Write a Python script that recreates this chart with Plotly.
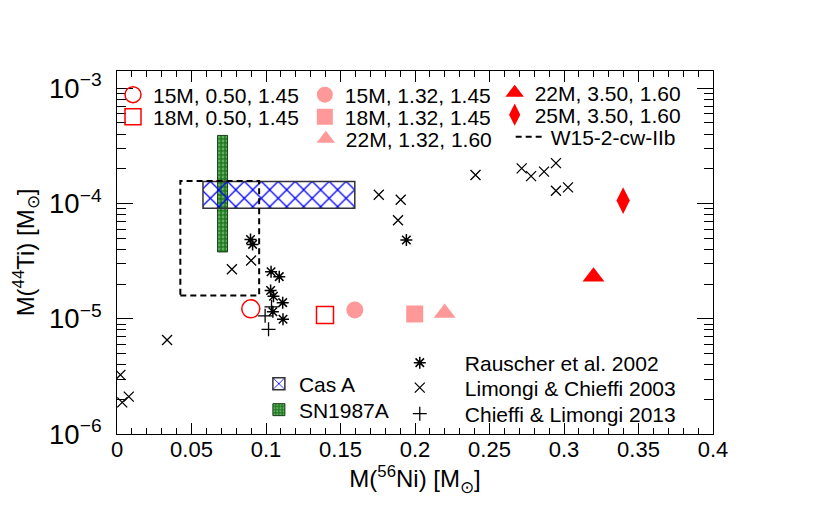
import plotly.graph_objects as go

# Rauscher et al. 2002
rau_ni = [0.0896, 0.0910, 0.1034, 0.1089, 0.1031, 0.1050, 0.1112, 0.1046, 0.1114, 0.1942]
rau_ti = [4.88e-5, 4.42e-5, 2.56e-5, 2.32e-5, 1.76e-5, 1.57e-5, 1.38e-5, 1.15e-5, 9.9e-6, 4.83e-5]

# Limongi & Chieffi 2003
lc_ni = [0.0023, 0.0035, 0.0079, 0.0336, 0.0771, 0.0900, 0.1757, 0.1904, 0.1886,
         0.2406, 0.2716, 0.2779, 0.2866, 0.2946, 0.2946, 0.3027]
lc_ti = [3.26e-6, 1.88e-6, 2.11e-6, 6.55e-6, 2.69e-5, 3.20e-5, 1.19e-4, 1.08e-4, 7.16e-5,
         1.77e-4, 2.02e-4, 1.73e-4, 1.89e-4, 2.24e-4, 1.29e-4, 1.38e-4]

# Chieffi & Limongi 2013
cl_ni = [0.0994, 0.1017, 0.1037]
cl_ti = [1.06e-5, 8.1e-6, 1.27e-5]

# models
model_names = ["15M, 0.50, 1.45", "18M, 0.50, 1.45",
               "15M, 1.32, 1.45", "18M, 1.32, 1.45", "22M, 1.32, 1.60",
               "22M, 3.50, 1.60", "25M, 3.50, 1.60"]
model_ni = [0.0898, 0.1396, 0.1596, 0.1998, 0.2199, 0.3198, 0.3397]
model_ti = [1.22e-5, 1.08e-5, 1.19e-5, 1.10e-5, 1.12e-5, 2.32e-5, 1.06e-4]

# observed ranges
casa_ni = [0.0577, 0.1596]
casa_ti = [9.1e-5, 1.55e-4]
sn87_ni = [0.0675, 0.0742]
sn87_ti = [3.8e-5, 3.9e-4]
w15_ni = [0.0425, 0.0954]
w15_ti = [1.59e-5, 1.57e-4]

FONT = "Liberation Sans, Arial, sans-serif"
OFF = 8  # page body margin
W, H = 822, 497
L, T = 117 - OFF, 71 - OFF
R, B = W - (713.5 - OFF), H - (434 - OFF)


def rect(xr, yr):
    return [xr[0], xr[1], xr[1], xr[0], xr[0]], [yr[0], yr[0], yr[1], yr[1], yr[0]]


def leg_at(px, py, iw=30):
    # one legend per entry, placed in page pixels
    px, py = px - OFF, py - OFF
    return dict(x=(px - L) / (W - L - R), y=(H - B - py) / (H - T - B),
                xanchor="left", yanchor="middle", bgcolor="rgba(0,0,0,0)",
                borderwidth=0, font=dict(family=FONT, size=21, color="black"),
                itemwidth=iw, itemclick=False)


fig = go.Figure()

# SN1987A band
fig.add_trace(go.Bar(x=[(sn87_ni[0] + sn87_ni[1]) / 2], width=[sn87_ni[1] - sn87_ni[0]],
                     base=[sn87_ti[0]], y=[sn87_ti[1] - sn87_ti[0]], name="SN1987A",
                     marker=dict(color="#1f7a1f", line=dict(color="#1a3d1a", width=1),
                                 pattern=dict(shape=".", bgcolor="#1f7a1f", fgcolor="#a8e0a8",
                                              size=4, solidity=0.4)),
                     legend="legend12"))
# Cas A box
fig.add_trace(go.Bar(x=[(casa_ni[0] + casa_ni[1]) / 2], width=[casa_ni[1] - casa_ni[0]],
                     base=[casa_ti[0]], y=[casa_ti[1] - casa_ti[0]], name="Cas A",
                     marker=dict(color="rgba(0,0,0,0)", line=dict(color="#333333", width=1.5),
                                 pattern=dict(shape="x", bgcolor="rgba(0,0,0,0)",
                                              fgcolor="#0000ff", fgopacity=1,
                                              size=12, solidity=0.2)),
                     legend="legend11"))

# W15-2-cw-IIb range
x, y = rect(w15_ni, w15_ti)
fig.add_trace(go.Scatter(x=x, y=y, mode="lines", name="W15-2-cw-IIb",
                         line=dict(color="black", width=2, dash="6px,4px"),
                         legend="legend8"))

fig.add_trace(go.Scatter(x=rau_ni, y=rau_ti, mode="markers", name="Rauscher et al. 2002",
                         marker=dict(symbol="asterisk-open", size=10, color="black",
                                     line=dict(color="black", width=1.5)),
                         legend="legend13"))
fig.add_trace(go.Scatter(x=lc_ni, y=lc_ti, mode="markers", name="Limongi & Chieffi 2003",
                         marker=dict(symbol="x-thin-open", size=10, color="black",
                                     line=dict(color="black", width=1.3)),
                         legend="legend14"))
fig.add_trace(go.Scatter(x=cl_ni, y=cl_ti, mode="markers", name="Chieffi & Limongi 2013",
                         marker=dict(symbol="cross-thin-open", size=10, color="black",
                                     line=dict(color="black", width=1.3)),
                         legend="legend15"))

model_style = [
    dict(symbol="circle-open", size=18, color="red", line=dict(color="red", width=1.5)),
    dict(symbol="square-open", size=17, color="red", line=dict(color="red", width=1.5)),
    dict(symbol="circle", size=17, color="#ff9999", line=dict(width=0)),
    dict(symbol="square", size=17, color="#ff9999", line=dict(width=0)),
    dict(symbol="triangle-up", size=19, color="#ff9999", line=dict(width=0)),
    dict(symbol="triangle-up", size=19, color="red", line=dict(width=0)),
    dict(symbol="diamond-tall", size=19, color="red", line=dict(width=0)),
]
model_leg = ["legend", "legend2", "legend3", "legend4", "legend5", "legend6", "legend7"]
for i in range(len(model_names)):
    fig.add_trace(go.Scatter(x=[model_ni[i]], y=[model_ti[i]], mode="markers",
                             name=model_names[i], marker=model_style[i],
                             legend=model_leg[i]))

fig.update_layout(
    width=W, height=H,
    margin=dict(l=L, r=R, t=T, b=B),
    plot_bgcolor="white", paper_bgcolor="white",
    font=dict(family=FONT, size=22, color="black"),
    showlegend=True, barmode="overlay",
    legend=leg_at(113, 95), legend2=leg_at(113, 117),
    legend3=leg_at(305, 95), legend4=leg_at(305, 117), legend5=leg_at(306, 139),
    legend6=leg_at(495, 93), legend7=leg_at(495, 115), legend8=leg_at(511, 137),
    legend11=leg_at(259, 384), legend12=leg_at(259, 410),
    legend13=leg_at(375, 363, 80), legend14=leg_at(375, 388, 80),
    legend15=leg_at(375, 414, 80),
    xaxis=dict(range=[0, 0.4], dtick=0.05, tick0=0, ticks="inside", ticklen=11,
               tickwidth=1, tickcolor="black", mirror="ticks", showline=True,
               linecolor="black", linewidth=1, showgrid=False, zeroline=False,
               automargin=False, tickfont=dict(size=22), ticklabelstandoff=-4,
               minor=dict(ticks="inside", ticklen=6, dtick=0.01, tickcolor="black",
                          showgrid=False),
               title=dict(text="M(<sup>56</sup>Ni) [M<sub>⊙</sub>]", font=dict(size=24),
                          standoff=0)),
    yaxis=dict(type="log", range=[-6, -2.85], dtick=1, exponentformat="power",
               ticks="inside", ticklen=16, tickwidth=1, tickcolor="black",
               mirror="ticks", showline=True, linecolor="black", linewidth=1,
               showgrid=False, zeroline=False, automargin=False,
               tickfont=dict(size=22), ticklabelstandoff=10,
               minor=dict(ticks="inside", ticklen=9, dtick="D1", tickcolor="black",
                          showgrid=False),
               title=dict(text="M(<sup>44</sup>Ti) [M<sub>⊙</sub>]", font=dict(size=24),
                          standoff=7)),
)

fig.write_html("out.html")
